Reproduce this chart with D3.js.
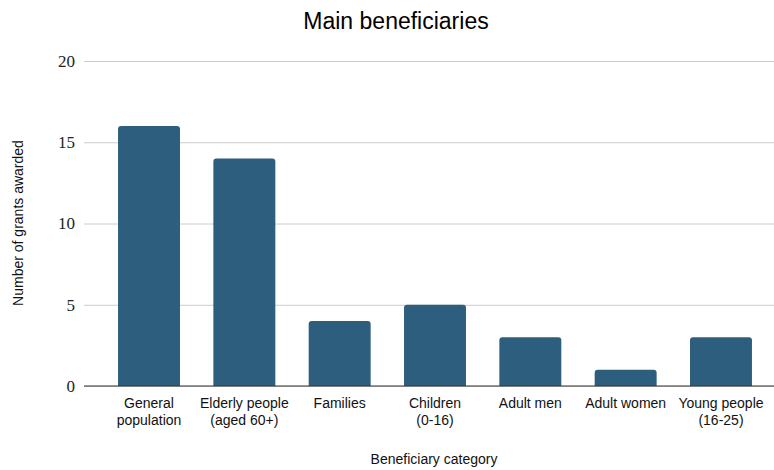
<!DOCTYPE html>
<html><head><meta charset="utf-8">
<script src="https://cdn.jsdelivr.net/npm/d3@7"></script>
<style>body{margin:0;background:#fff}svg{display:block}</style>
</head><body>
<svg id="c" width="774" height="470"></svg>
<script>
const categories = [["General","population"],["Elderly people","(aged 60+)"],["Families"],["Children","(0-16)"],["Adult men"],["Adult women"],["Young people","(16-25)"]];
const values = [16,14,4,5,3,1,3];
const yTicks = [0,5,10,15,20];

const svg = d3.select("#c");
const W=774,H=470;
const x = d3.scaleBand().domain(d3.range(categories.length)).range([84,786]).paddingInner(0.35).paddingOuter(0.357);
const y = d3.scaleLinear().domain([0,20]).range([386,61]);

svg.append("text").attr("x",396).attr("y",29).attr("text-anchor","middle")
  .attr("font-family","Liberation Sans, Arial, sans-serif").attr("font-size",23).attr("fill","#000")
  .text("Main beneficiaries");

const yAxis = d3.axisLeft(y).tickValues(yTicks).tickSize(-(774-84)).tickPadding(9);
const gy = svg.append("g").attr("transform","translate(84,0)").call(yAxis);
gy.select(".domain").remove();
gy.selectAll(".tick line").attr("stroke","#cccccc").attr("stroke-width",1);
gy.selectAll(".tick text").attr("font-family","Liberation Serif, Times New Roman, serif").attr("font-size",17).attr("fill","#222");

const r=3;
svg.append("g").selectAll("path").data(values).join("path")
  .attr("fill","#2e5e7e")
  .attr("d",(d,i)=>{
    const x0=x(i), w=x.bandwidth(), yt=y(d), yb=y(0);
    return `M${x0},${yb}V${yt+r}Q${x0},${yt} ${x0+r},${yt}H${x0+w-r}Q${x0+w},${yt} ${x0+w},${yt+r}V${yb}Z`;
  });

svg.append("line").attr("x1",84).attr("x2",774).attr("y1",y(0)).attr("y2",y(0)).attr("stroke","#333").attr("stroke-width",1.2);

const xAxis = d3.axisBottom(x).tickSize(0).tickPadding(0).tickFormat(()=> "");
const gx = svg.append("g").attr("transform",`translate(0,${y(0)})`).call(xAxis);
gx.select(".domain").remove();
gx.selectAll(".tick").each(function(i){
  const t=d3.select(this).select("text").attr("font-family","Liberation Sans, Arial, sans-serif").attr("font-size",14).attr("fill","#111").attr("y",0).attr("dy",null);
  categories[i].forEach((line,k)=>t.append("tspan").attr("x",0).attr("y",22+k*17).text(line));
});

svg.append("text").attr("x",434).attr("y",464).attr("text-anchor","middle")
  .attr("font-family","Liberation Sans, Arial, sans-serif").attr("font-size",14).attr("fill","#111")
  .text("Beneficiary category");
svg.append("text").attr("transform","translate(23,223) rotate(-90)").attr("text-anchor","middle")
  .attr("font-family","Liberation Sans, Arial, sans-serif").attr("font-size",14).attr("fill","#111")
  .text("Number of grants awarded");
</script>
</body></html>
